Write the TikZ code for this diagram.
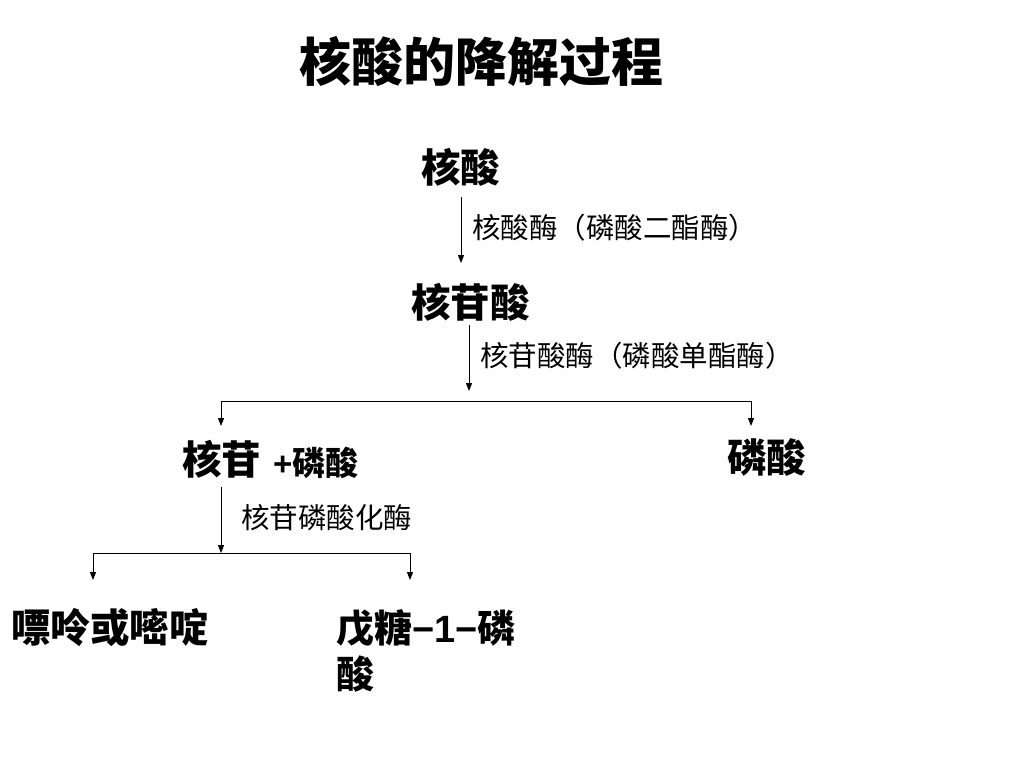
\documentclass[tikz,border=0pt]{standalone}
\usepackage{fontspec}
\setmainfont{Liberation Sans}
\newfontfamily\cjk{Noto Sans CJK SC}
\usetikzlibrary{arrows.meta}
\tikzset{
  lbl/.style={inner sep=0pt, anchor=west, font=\cjk\bfseries\fontsize{39.5}{46}\selectfont},
  enz/.style={inner sep=0pt, anchor=west, font=\cjk\fontsize{28.5}{32}\selectfont},
  conn/.style={line width=1pt, -{Triangle[length=8pt,width=6pt]}},
  seg/.style={line width=1pt}
}
\begin{document}
\begin{tikzpicture}[x=1pt,y=-1pt]
\useasboundingbox (0,0) rectangle (1024,768);
\fill[white] (0,0) rectangle (1024,768);
\node[inner sep=0pt, font=\cjk\bfseries\fontsize{52}{60}\selectfont] (title) at (481,62) {核酸的降解过程};

\node[lbl] (na) at (421,167) {核酸};
\node[lbl] (nt) at (411,302) {核苷酸};
\node[lbl] (ns) at (182,459) {核苷};
\node[inner sep=0pt, anchor=west, font=\cjk\bfseries\fontsize{33}{38}\selectfont] (plus) at (273,463) {{\fontspec{Liberation Sans}\bfseries +}磷酸};
\node[lbl] (pa) at (727,457) {磷酸};
\node[lbl] (pur) at (11,628) {嘌呤或嘧啶};
\node[lbl, align=left, anchor=north west, font=\cjk\bfseries\fontsize{38}{46}\selectfont] (pen) at (336,609) {戊糖{\fontspec{Liberation Sans}\bfseries\fontsize{38}{46}\selectfont −1−}磷\\酸};

\node[enz] (e1) at (472,228) {核酸酶（磷酸二酯酶）};
\node[enz] (e2) at (480,356) {核苷酸酶（磷酸单酯酶）};
\node[enz] (e3) at (241,518) {核苷磷酸化酶};

\coordinate (a1) at (461,197);
\coordinate (a2) at (461,263);
\coordinate (b1) at (469,325);
\coordinate (b2) at (469,391);
\coordinate (hL) at (221,401);
\coordinate (hR) at (751,401);
\coordinate (hLe) at (221,426);
\coordinate (hRe) at (751,426);
\coordinate (c1) at (221,487);
\coordinate (c2) at (221,553);
\coordinate (gL) at (93,553);
\coordinate (gR) at (410,553);
\coordinate (gLe) at (93,580);
\coordinate (gRe) at (410,580);

\draw[conn] (a1) -- (a2);
\draw[conn] (b1) -- (b2);
\draw[seg] (hL) -- (hR);
\draw[conn] (hL) -- (hLe);
\draw[conn] (hR) -- (hRe);
\draw[conn] (c1) -- (c2);
\draw[seg] (gL) -- (gR);
\draw[conn] (gL) -- (gLe);
\draw[conn] (gR) -- (gRe);
\end{tikzpicture}
\end{document}
